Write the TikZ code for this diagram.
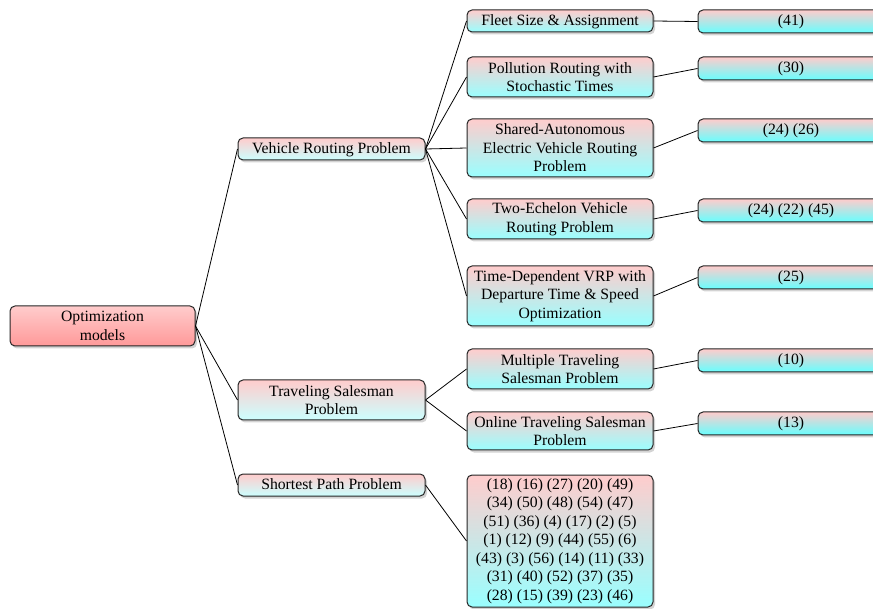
\documentclass[tikz,border=0pt]{standalone}
\usepackage{fontspec}
\setmainfont{Liberation Serif}
\usetikzlibrary{shadows}
\begin{document}
\begin{tikzpicture}[x=1pt,y=-1pt,
  base/.style={draw=black!85, line width=1pt, rounded corners=5pt, align=center,
    inner xsep=4pt, inner ysep=2pt, font=\fontsize{15.7}{18.5}\selectfont,
    drop shadow={opacity=0.35,shadow xshift=2pt,shadow yshift=-2.5pt}},
  single/.style={text height=12pt, text depth=3pt},
  rootbox/.style={base, top color=red!20, bottom color=red!40, minimum width=185pt},
  lone/.style={base, top color=red!20, bottom color=cyan!20, minimum width=187pt},
  ltwo/.style={base, top color=red!20, bottom color=cyan!40, minimum width=186pt},
  leafbox/.style={base, single, top color=red!20, bottom color=cyan!60, minimum width=186pt,
    minimum height=23pt, anchor=north west},
  conn/.style={line width=0.8pt, black}
]
\useasboundingbox (0,0) rectangle (873,609);
\clip (0,0) rectangle (873,609);

\node[rootbox, minimum height=40pt] (root) at (102.5,326) {Optimization\\models};

\node[lone, single, minimum height=22pt] (vrp) at (331.5,149) {Vehicle Routing Problem};
\node[lone, minimum height=40pt] (tsp) at (331.5,400) {Traveling Salesman\\Problem};
\node[lone, single, minimum height=22pt] (spp) at (331.5,485) {Shortest Path Problem};

\node[ltwo, single, minimum height=22pt] (fleet) at (560,21) {Fleet Size \& Assignment};
\node[ltwo, minimum height=40pt] (poll) at (560,77) {Pollution Routing with\\Stochastic Times};
\node[ltwo, minimum height=58pt] (saev) at (560,148) {Shared-Autonomous\\Electric Vehicle Routing\\Problem};
\node[ltwo, minimum height=40pt] (two) at (560,219) {Two-Echelon Vehicle\\Routing Problem};
\node[ltwo, minimum height=60pt] (td) at (560,296) {Time-Dependent VRP with\\Departure Time \& Speed\\Optimization};
\node[ltwo, minimum height=40pt] (mtsp) at (560,369) {Multiple Traveling\\Salesman Problem};
\node[ltwo, minimum height=38pt] (otsp) at (560,431) {Online Traveling Salesman\\Problem};
\node[ltwo, minimum height=132pt] (refs) at (560,541) {(18) (16) (27) (20) (49)\\(34) (50) (48) (54) (47)\\(51) (36) (4) (17) (2) (5)\\(1) (12) (9) (44) (55) (6)\\(43) (3) (56) (14) (11) (33)\\(31) (40) (52) (37) (35)\\(28) (15) (39) (23) (46)};

\node[leafbox] (r41) at ([xshift=44pt]fleet.north east) {(41)};
\node[leafbox] (r30) at ([xshift=44pt]poll.north east) {(30)};
\node[leafbox] (r24) at ([xshift=44pt]saev.north east) {(24) (26)};
\node[leafbox] (r45) at ([xshift=44pt]two.north east) {(24) (22) (45)};
\node[leafbox] (r25) at ([xshift=44pt]td.north east) {(25)};
\node[leafbox] (r10) at ([xshift=44pt]mtsp.north east) {(10)};
\node[leafbox] (r13) at ([xshift=44pt]otsp.north east) {(13)};

\draw[conn] (root.east) -- (vrp.west);
\draw[conn] (root.east) -- (tsp.west);
\draw[conn] (root.east) -- (spp.west);
\draw[conn] (vrp.east) -- (fleet.west);
\draw[conn] (vrp.east) -- (poll.west);
\draw[conn] (vrp.east) -- (saev.west);
\draw[conn] (vrp.east) -- (two.west);
\draw[conn] (vrp.east) -- (td.west);
\draw[conn] (tsp.east) -- (mtsp.west);
\draw[conn] (tsp.east) -- (otsp.west);
\draw[conn] (spp.east) -- (refs.west);
\draw[conn] (fleet.east) -- (r41.west);
\draw[conn] (poll.east) -- (r30.west);
\draw[conn] (saev.east) -- (r24.west);
\draw[conn] (two.east) -- (r45.west);
\draw[conn] (td.east) -- (r25.west);
\draw[conn] (mtsp.east) -- (r10.west);
\draw[conn] (otsp.east) -- (r13.west);
\end{tikzpicture}
\end{document}
